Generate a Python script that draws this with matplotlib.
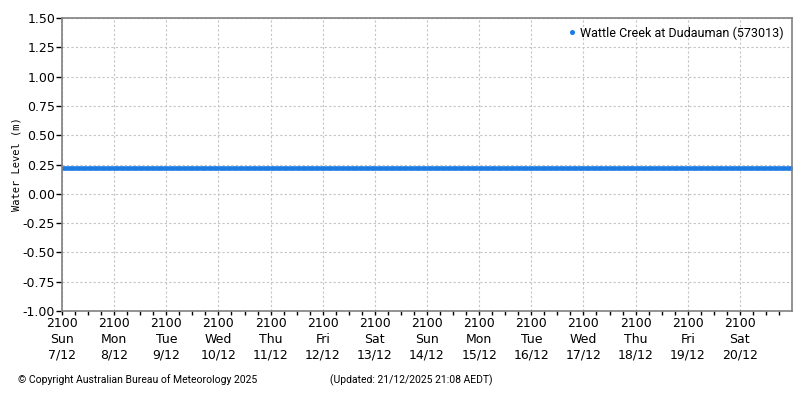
import matplotlib
matplotlib.use("Agg")
from matplotlib import pyplot as plt
from matplotlib import dates as mdates
import numpy as np
import pandas as pd

# Wattle Creek at Dudauman (573013), 15-minute readings, flat at ~0.22 m

station = "Wattle Creek at Dudauman (573013)"
start = "2025-12-07 21:00"
end = "2025-12-21 21:00"
daily_level_m = [0.22, 0.22, 0.22, 0.22, 0.22, 0.22, 0.22,
                 0.22, 0.22, 0.22, 0.22, 0.22, 0.22, 0.22]
readings_per_day = 96
day_names = ["Sun", "Mon", "Tue", "Wed", "Thu", "Fri", "Sat",
             "Sun", "Mon", "Tue", "Wed", "Thu", "Fri", "Sat"]
day_dates = ["7/12", "8/12", "9/12", "10/12", "11/12", "12/12", "13/12",
             "14/12", "15/12", "16/12", "17/12", "18/12", "19/12", "20/12"]
y_ticks = [1.50, 1.25, 1.00, 0.75, 0.50, 0.25, 0.00,
           -0.25, -0.50, -0.75, -1.00]

times = pd.date_range(start, periods=len(daily_level_m) * readings_per_day, freq="15min")
level = np.repeat(daily_level_m, readings_per_day)

fig = plt.figure(figsize=(8, 4), dpi=100)
ax = fig.add_axes([0.0775, 0.2225, 0.9125, 0.7325])

blue = "#1c7ce4"
ax.plot(times, level, "o", color=blue, ms=2.8, mew=0, label=station)

ax.set_xlim(pd.Timestamp(start), pd.Timestamp(end))
ax.set_ylim(-1.0, 1.5)
ax.set_yticks(y_ticks)
ax.set_yticklabels(["%.2f" % v for v in y_ticks])

tick_days = pd.date_range(start, periods=len(day_names), freq="1D")
ax.set_xticks(tick_days)
ax.set_xticklabels(["2100\n%s\n%s" % (d, n) for d, n in zip(day_names, day_dates)],
                   linespacing=1.3)
ax.xaxis.set_minor_locator(mdates.HourLocator(byhour=[3, 9, 15]))

ax.tick_params(axis="y", direction="out", length=4, width=1, labelsize=9, pad=1, color="black")
ax.tick_params(axis="x", which="both", direction="out", length=3, width=1, labelsize=9, pad=1, color="black")

ax.grid(True, which="major", color="#c4c4c4", linestyle=(0, (2, 2)), linewidth=0.8)
for s in ax.spines.values():
    s.set_color("#808080")
    s.set_linewidth(1.2)

ax.set_ylabel("Water Level (m)", fontsize=7.5, family="DejaVu Sans Mono")
ax.yaxis.set_label_coords(-0.055, 0.5)

leg = ax.legend(loc="upper right", frameon=False, handletextpad=0.3,
                prop={"family": "Roboto", "size": 9},
                markerscale=1.3, borderaxespad=0.25, handlelength=0.8)

fig.text(0.022, 0.042, "\u00a9 Copyright Australian Bureau of Meteorology 2025",
         fontsize=7.5, family="Roboto")
fig.text(0.412, 0.042, "(Updated: 21/12/2025 21:08 AEDT)", fontsize=7.5, family="Roboto")

fig.savefig("out.png", dpi=100)
